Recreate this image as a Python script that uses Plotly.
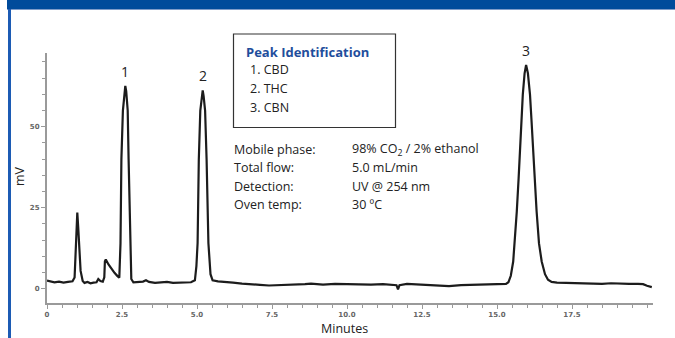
import plotly.graph_objects as go

# ---- data ----
time_min = [
    0.00, 0.10, 0.25, 0.40, 0.55, 0.70, 0.85, 0.92, 0.96, 0.99, 1.01, 1.04, 1.08, 1.12, 1.19,
    1.25, 1.35, 1.45, 1.55, 1.65, 1.71, 1.78, 1.86, 1.91, 1.93, 1.96, 2.05, 2.15, 2.25, 2.35,
    2.41, 2.45, 2.48, 2.53, 2.58, 2.61, 2.64, 2.69, 2.72, 2.77, 2.81, 2.88, 3.00, 3.20, 3.30,
    3.40, 3.60, 3.80, 4.00, 4.20, 4.40, 4.60, 4.80, 4.93, 4.98, 5.02, 5.06, 5.11, 5.16, 5.19,
    5.22, 5.27, 5.32, 5.38, 5.45, 5.52, 5.70, 5.90, 6.20, 6.50, 6.80, 7.10, 7.40, 7.80, 8.20,
    8.60, 8.80, 9.20, 9.60, 10.00, 10.40, 10.80, 11.20, 11.55, 11.65, 11.70, 11.75, 12.00, 12.40, 12.80,
    13.10, 13.40, 13.80, 14.20, 14.60, 15.00, 15.20, 15.30, 15.38, 15.46, 15.54, 15.60, 15.66, 15.72, 15.77,
    15.82, 15.86, 15.92, 15.97, 16.03, 16.10, 16.15, 16.19, 16.26, 16.32, 16.40, 16.49, 16.60, 16.70, 16.82,
    17.00, 17.30, 17.60, 17.90, 18.20, 18.50, 18.80, 19.10, 19.40, 19.70, 19.87, 20.00, 20.16,
]
signal_mv = [
    2.5, 2.3, 2.0, 2.2, 1.9, 2.1, 2.3, 3.5, 12.0, 21.0, 23.5, 19.0, 11.0, 5.5, 2.4,
    1.8, 2.1, 1.7, 1.9, 2.0, 3.0, 2.4, 2.2, 3.5, 8.5, 9.0, 7.5, 6.0, 4.9, 3.9,
    3.4, 14.0, 40.0, 55.0, 61.5, 62.6, 61.0, 55.0, 40.0, 14.0, 3.0, 2.0, 2.0, 2.2, 2.6,
    2.1, 1.8, 2.0, 2.1, 1.8, 1.8, 2.0, 2.0, 2.6, 7.0, 14.1, 39.8, 55.0, 60.0, 61.2,
    59.5, 55.0, 39.8, 14.1, 4.5, 2.6, 2.3, 2.2, 1.9, 1.6, 1.5, 1.2, 1.0, 1.1, 1.2,
    1.4, 1.6, 1.3, 1.5, 1.4, 1.5, 1.3, 1.4, 1.3, 1.1, -0.2, 1.1, 1.5, 1.3, 1.2,
    1.0, 0.8, 1.1, 1.2, 1.2, 1.3, 1.4, 1.5, 2.0, 4.0, 8.4, 15.0, 23.9, 34.0, 44.4,
    53.0, 59.9, 66.5, 69.1, 66.5, 59.9, 52.0, 44.4, 33.0, 23.9, 14.0, 8.4, 4.5, 2.8, 2.1,
    1.9, 1.8, 1.7, 1.8, 1.6, 1.5, 1.7, 1.5, 1.5, 1.5, 1.4, 0.9, 0.5,
]

peak_labels = ["1", "2", "3"]
peak_times = [2.61, 5.19, 15.97]
peak_heights = [62.6, 61.2, 69.1]

x_tick_vals = [0, 2.5, 5.0, 7.5, 10.0, 12.5, 15.0, 17.5]
x_tick_text = ["0", "2.5", "5.0", "7.5", "10.0", "12.5", "15.0", "17.5"]
y_tick_vals = [0, 25, 50]
y_tick_text = ["0", "25", "50"]

legend_title = "Peak Identification"
compound_names = ["1. CBD", "2. THC", "3. CBN"]
param_labels = ["Mobile phase:", "Total flow:", "Detection:", "Oven temp:"]
param_values = ["98% CO<sub>2</sub> / 2% ethanol", "5.0 mL/min", "UV @ 254 nm", "30 ºC"]

# ---- figure ----
W, H = 675, 338
ML, MR, MT, MB = 47, 22, 53, 35
PW, PH = W - ML - MR, H - MT - MB


def px(x):
    return (x - ML) / PW


def py(y):
    return (H - MB - y) / PH


fig = go.Figure()
fig.add_trace(go.Scatter(
    x=time_min, y=signal_mv, mode="lines",
    line=dict(color="#1c1c1c", width=2.2),
    hoverinfo="skip", showlegend=False,
))

axis_grey = "#9a9a9a"
tick_font = dict(family="DejaVu Sans", size=7, color="#666666", weight="bold")

fig.update_xaxes(
    range=[0, 20.2], showline=True, linecolor=axis_grey, linewidth=2,
    showgrid=False, zeroline=False,
    tickmode="array", tickvals=x_tick_vals, ticktext=x_tick_text,
    ticks="outside", ticklen=4, tickwidth=1, tickcolor=axis_grey,
    minor=dict(tickmode="linear", tick0=0, dtick=0.5, ticks="outside",
               ticklen=3, tickwidth=1, tickcolor=axis_grey, showgrid=False),
    tickfont=tick_font,
)
fig.update_yaxes(
    range=[-4.4, 72.76], showline=True, linecolor=axis_grey, linewidth=2,
    showgrid=False, zeroline=False,
    tickmode="array", tickvals=y_tick_vals, ticktext=y_tick_text,
    ticks="outside", ticklen=4, tickwidth=1, tickcolor=axis_grey,
    minor=dict(tickmode="linear", tick0=0, dtick=5, ticks="outside",
               ticklen=3, tickwidth=1, tickcolor=axis_grey, showgrid=False),
    tickfont=tick_font,
)

annotations = []
for lab, t, h in zip(peak_labels, peak_times, peak_heights):
    annotations.append(dict(
        x=t, y=h, xref="x", yref="y", text=lab, showarrow=False,
        xanchor="center", yanchor="bottom", yshift=3,
        font=dict(family="Open Sans", size=14, color="#222222"),
    ))

text_font = dict(family="Open Sans", size=12.5, color="#222222")
annotations.append(dict(
    x=px(19), y=py(176), xref="paper", yref="paper", text="mV", textangle=-90,
    showarrow=False, xanchor="center", yanchor="middle", font=text_font,
))
annotations.append(dict(
    x=px(344), y=py(328), xref="paper", yref="paper", text="Minutes",
    showarrow=False, xanchor="center", yanchor="middle", font=text_font,
))

# legend box texts
annotations.append(dict(
    x=px(244), y=py(51.5), xref="paper", yref="paper", text="<b>" + legend_title + "</b>",
    showarrow=False, xanchor="left", yanchor="middle",
    font=dict(family="Open Sans", size=13, color="#1f4e9c"),
))
for i, name in enumerate(compound_names):
    annotations.append(dict(
        x=px(248), y=py(70 + i * 18.8), xref="paper", yref="paper", text=name,
        showarrow=False, xanchor="left", yanchor="middle", font=text_font,
    ))
for i, (lab, val) in enumerate(zip(param_labels, param_values)):
    yy = py(149 + i * 18.6)
    annotations.append(dict(
        x=px(232), y=yy, xref="paper", yref="paper", text=lab,
        showarrow=False, xanchor="left", yanchor="middle", font=text_font,
    ))
    annotations.append(dict(
        x=px(350), y=yy, xref="paper", yref="paper", text=val,
        showarrow=False, xanchor="left", yanchor="middle", font=text_font,
    ))

shapes = [
    # blue header band
    dict(type="rect", xref="paper", yref="paper", x0=px(7), x1=px(680), y0=py(9), y1=py(-5),
         fillcolor="#004b9b", line=dict(width=0), layer="above"),
    dict(type="line", xref="paper", yref="paper", x0=px(7), x1=px(680), y0=py(9.5), y1=py(9.5),
         line=dict(color="#7f9cc9", width=1)),
    # blue left border
    dict(type="rect", xref="paper", yref="paper", x0=px(8), x1=px(11), y0=py(345), y1=py(9),
         fillcolor="#1c5bb4", line=dict(width=0)),
    # peak identification box
    dict(type="rect", xref="paper", yref="paper", x0=px(233.5), x1=px(395.5), y0=py(127.5), y1=py(34),
         fillcolor="rgba(0,0,0,0)", line=dict(color="#333333", width=1.2)),
]

fig.update_layout(
    width=W, height=H, autosize=False,
    margin=dict(l=ML, r=MR, t=MT, b=MB),
    paper_bgcolor="white", plot_bgcolor="white",
    annotations=annotations, shapes=shapes,
    showlegend=False,
)

fig.write_html(
    "out.html",
    config={"displayModeBar": False},
    post_script="document.body.style.margin='0';document.body.style.overflow='hidden';",
)
